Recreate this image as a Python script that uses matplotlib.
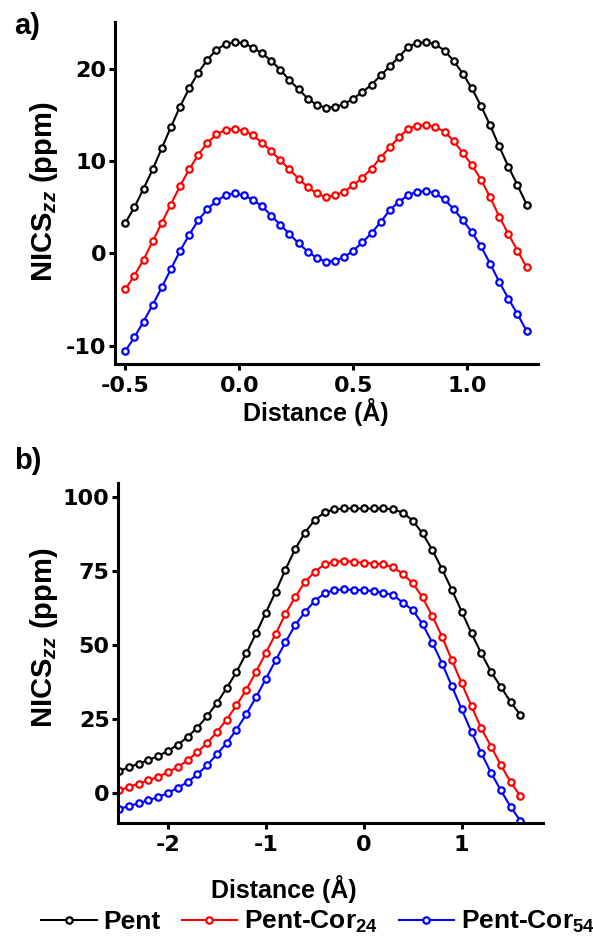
import matplotlib
matplotlib.use('Agg')
import matplotlib.pyplot as plt
import numpy as np

plt.rcParams['font.family'] = ['Liberation Sans', 'DejaVu Sans']
plt.rcParams['font.weight'] = 'bold'
plt.rcParams['mathtext.fontset'] = 'custom'
plt.rcParams['mathtext.rm'] = 'Liberation Sans:bold'
plt.rcParams['mathtext.it'] = 'Liberation Sans:italic:bold'
plt.rcParams['axes.unicode_minus'] = False

# panel a) - distance grid and NICSzz values
dist_a = np.round(np.arange(-0.5, 1.2601, 0.04), 2)
pent_a = [3.3, 5.0, 7.0, 9.1, 11.4, 13.7, 15.9, 17.9, 19.6, 21.0, 22.1, 22.7, 22.9,
          22.8, 22.3, 21.7, 20.9, 19.9, 18.8, 17.8, 16.8, 16.1, 15.8, 15.9, 16.2,
          16.8, 17.5, 18.3, 19.3, 20.3, 21.3, 22.4, 22.85, 22.9, 22.7, 22.0, 20.9,
          19.5, 17.9, 16.0, 13.9, 11.6, 9.4, 7.4, 5.3]
cor24_a = [-3.9, -2.4, -0.7, 1.3, 3.3, 5.3, 7.3, 9.1, 10.7, 12.0, 12.9, 13.4, 13.5,
           13.3, 12.8, 12.0, 11.1, 10.1, 9.1, 8.1, 7.2, 6.5, 6.1, 6.3, 6.7,
           7.4, 8.2, 9.2, 10.4, 11.5, 12.6, 13.5, 13.85, 13.9, 13.7, 13.2, 12.2,
           10.9, 9.6, 8.0, 6.1, 4.0, 2.1, 0.3, -1.5]
cor54_a = [-10.6, -9.1, -7.4, -5.6, -3.7, -1.7, 0.25, 2.0, 3.6, 4.8, 5.7, 6.3, 6.5,
           6.3, 5.8, 5.1, 4.1, 3.1, 2.1, 1.1, 0.2, -0.5, -0.9, -0.8, -0.4,
           0.3, 1.2, 2.2, 3.4, 4.7, 5.6, 6.3, 6.7, 6.75, 6.5, 5.85, 4.8,
           3.6, 2.3, 0.75, -1.1, -3.1, -4.9, -6.6, -8.4]

# panel b)
dist_b = np.round(np.arange(-2.5, 1.601, 0.1), 1)
pent_b = [7.5, 8.8, 10.0, 11.2, 12.6, 14.3, 16.4, 19.0, 22.2, 26.0, 30.5, 35.5, 41.0,
          47.2, 54.0, 61.0, 68.0, 75.5, 82.5, 88.0, 92.3, 94.8, 95.8, 96.1, 96.1,
          96.1, 96.1, 96.1, 95.8, 94.7, 92.0, 87.7, 82.1, 75.6, 68.6, 61.3, 54.0,
          47.2, 41.0, 35.9, 30.8, 26.4]
cor24_b = [1.0, 2.1, 3.3, 4.4, 5.6, 7.1, 8.9, 11.1, 13.9, 17.0, 20.7, 24.9, 29.7,
           35.0, 41.0, 47.4, 53.8, 60.5, 66.3, 71.3, 74.8, 77.3, 78.1, 78.4, 78.1,
           77.8, 77.5, 77.3, 76.2, 74.0, 70.9, 66.1, 59.8, 52.8, 44.9, 37.1, 29.4,
           21.9, 15.8, 9.5, 3.8, -1.0]
cor54_b = [-5.2, -4.4, -3.3, -2.4, -1.2, 0.1, 1.9, 3.8, 6.4, 9.5, 13.2, 17.0, 21.5,
           26.7, 32.5, 38.6, 44.9, 51.0, 56.8, 61.2, 65.0, 67.5, 68.6, 68.8, 68.6,
           68.6, 68.2, 67.7, 66.9, 64.3, 61.8, 57.1, 50.8, 43.8, 36.1, 28.3, 20.7,
           13.6, 6.9, 1.0, -4.6, -9.3]

labels = ['Pent', 'Pent-Cor$_{24}$', 'Pent-Cor$_{54}$']
colors = ['black', '#ff0000', '#0000ff']

W, H = 593, 943
fig = plt.figure(figsize=(W / 100, H / 100), dpi=100)


def rect(l, t, r, b):
    return [l / W, 1 - b / H, (r - l) / W, (b - t) / H]


ax1 = fig.add_axes(rect(115, 22, 538, 364))
ax2 = fig.add_axes(rect(118, 483, 543, 823))

for ax, x, ys in [(ax1, dist_a, [pent_a, cor24_a, cor54_a]),
                  (ax2, dist_b, [pent_b, cor24_b, cor54_b])]:
    for y, c, lab in zip(ys, colors, labels):
        ax.plot(x, y, '-o', color=c, lw=1.5, ms=4.6, mfc='white', mec=c, mew=1.6,
                label=lab)
    for s in ['top', 'right']:
        ax.spines[s].set_visible(False)
    for s in ['left', 'bottom']:
        ax.spines[s].set_linewidth(2.2)
    ax.tick_params(width=2.2, length=4.5, labelsize=16, pad=1.5,
                   labelfontfamily='DejaVu Sans')
    ax.tick_params(axis='x', pad=4)
    ax.set_xlabel('Distance (Å)', fontsize=18, fontweight='bold')
    ax.set_ylabel('NICS$_{zz}$ (ppm)', fontsize=21, fontweight='bold')

ax1.set_xlim(-0.545, 1.31)
ax1.set_ylim(-12, 25.1)
ax1.set_xticks([-0.5, 0.0, 0.5, 1.0])
ax1.set_xticklabels(['-0.5', '0.0', '0.5', '1.0'])
ax1.set_yticks([-10, 0, 10, 20])
ax1.yaxis.set_label_coords(-0.13, 0.503)
ax1.xaxis.set_label_coords(0.475, -0.1)

ax2.set_xlim(-2.51, 1.83)
ax2.set_ylim(-10, 104.7)
ax2.set_xticks([-2, -1, 0, 1])
ax2.set_yticks([0, 25, 50, 75, 100])
ax2.yaxis.set_label_coords(-0.136, 0.544)
ax2.xaxis.set_label_coords(0.39, -0.153)

for t in ax1.get_xticklabels() + ax1.get_yticklabels() + ax2.get_xticklabels() + ax2.get_yticklabels():
    t.set_fontweight('bold')

fig.text(14 / W, 1 - 26 / H, 'a)', fontsize=21, fontweight='bold', va='center')
fig.text(14 / W, 1 - 461 / H, 'b)', fontsize=21, fontweight='bold', va='center')

handles, labs = ax2.get_legend_handles_labels()
fig.legend(handles, labs, loc='center', bbox_to_anchor=(318 / W, 1 - 922 / H),
           ncol=3, frameon=False, fontsize=19, handlelength=2.1,
           handletextpad=0.25, columnspacing=0.8, borderaxespad=0, borderpad=0)

fig.savefig('out.png', dpi=100)
